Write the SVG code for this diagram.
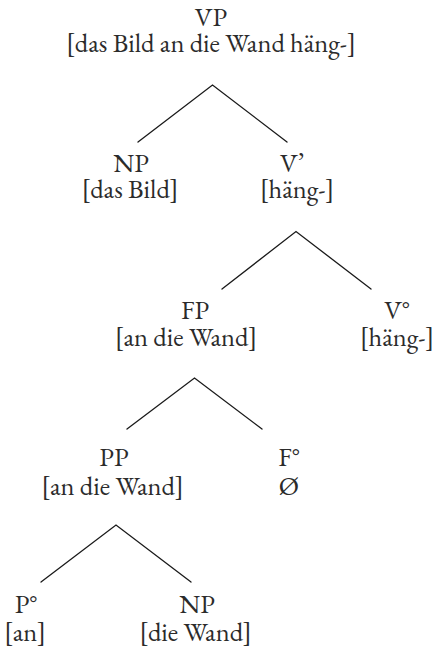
<svg xmlns="http://www.w3.org/2000/svg" width="435" height="648" viewBox="0 0 435 648">
  <style>
    text { font-family: "EB Garamond", "Liberation Serif", "DejaVu Serif", serif; font-size: 26.5px; fill: #2b2b2b; text-anchor: middle; }
    .edge { stroke: #1a1a1a; stroke-width: 1.3; fill: none; stroke-linecap: round; }
  </style>
  <rect width="435" height="648" fill="#ffffff"/>

  <!-- branches -->
  <g id="connectors">
    <polyline class="edge" points="138,142 212.5,85 287,142"/>
    <polyline class="edge" points="222,289 296,231.5 371,289"/>
    <polyline class="edge" points="127,429 194.5,378 262,429"/>
    <polyline class="edge" points="41,582 116,525 191,582"/>
  </g>

  <g id="vp">
    <text x="211" y="26">VP</text>
    <text x="211" y="52">[das Bild an die Wand häng-]</text>
  </g>
  <g id="np1">
    <text x="131" y="172">NP</text>
    <text x="130" y="198">[das Bild]</text>
  </g>
  <g id="vbar">
    <text x="292" y="172">V’</text>
    <text x="297" y="198">[häng-]</text>
  </g>
  <g id="fp">
    <text x="195" y="319">FP</text>
    <text x="186" y="346">[an die Wand]</text>
  </g>
  <g id="v0">
    <text x="397" y="319">V°</text>
    <text x="397" y="346">[häng-]</text>
  </g>
  <g id="pp">
    <text x="114" y="466">PP</text>
    <text x="112.5" y="495">[an die Wand]</text>
  </g>
  <g id="f0">
    <text x="289" y="466">F°</text>
    <text x="289" y="495">Ø</text>
  </g>
  <g id="p0">
    <text x="26" y="613">P°</text>
    <text x="25" y="641">[an]</text>
  </g>
  <g id="np2">
    <text x="197" y="613">NP</text>
    <text x="195.5" y="641">[die Wand]</text>
  </g>
</svg>
